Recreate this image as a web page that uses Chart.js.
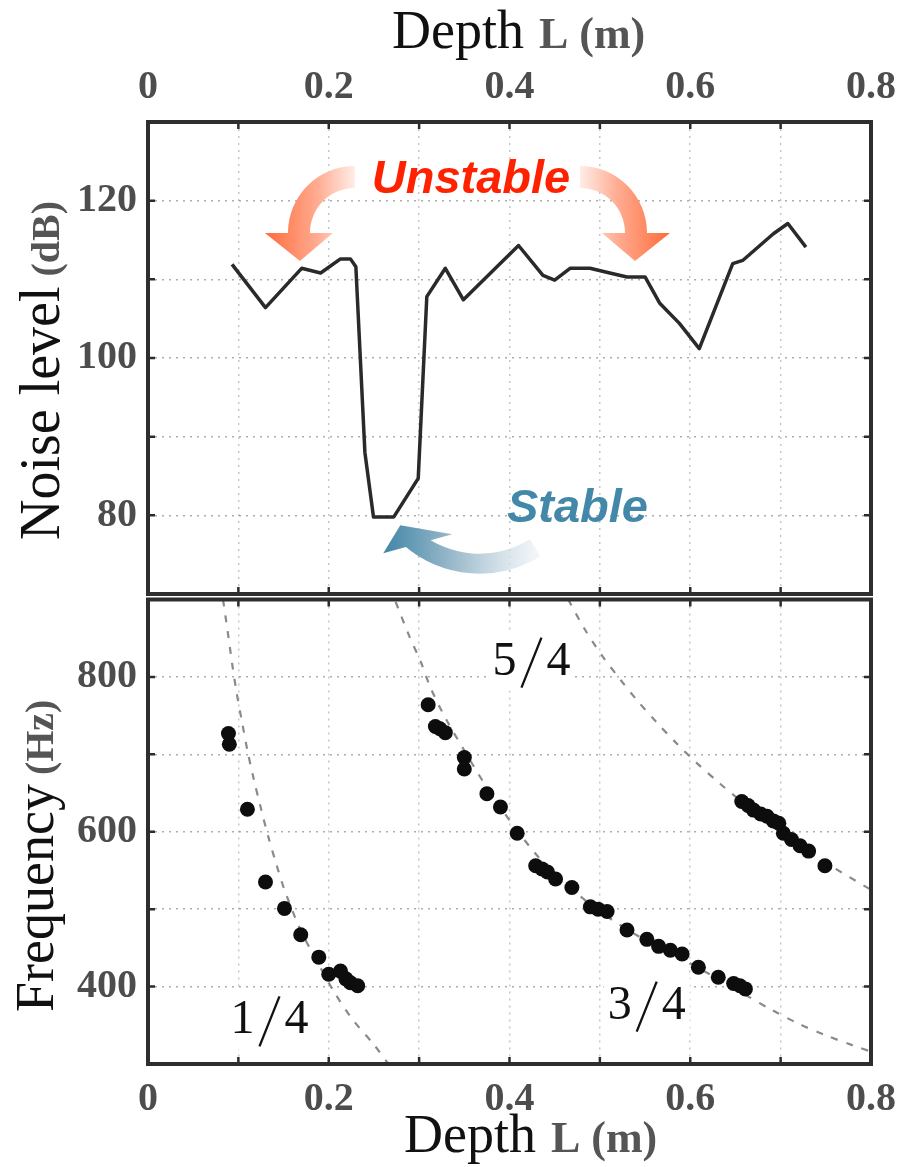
<!DOCTYPE html>
<html>
<head>
<meta charset="utf-8">
<script src="https://cdn.jsdelivr.net/npm/chart.js@4.4.1/dist/chart.umd.min.js"></script>
<style>
  html, body { margin: 0; padding: 0; background: #ffffff; }
  #wrap { position: relative; width: 899px; height: 1167px; overflow: hidden; background: #ffffff; }
  #noiseCanvas { position: absolute; left: 0; top: 0; }
  #freqCanvas { position: absolute; left: 0; top: 592px; }
</style>
</head>
<body>
<div id="wrap">
  <canvas id="noiseCanvas" width="899" height="598"></canvas>
  <canvas id="freqCanvas" width="899" height="575"></canvas>
</div>
<script>
// ---- Noise level against cavity depth ----
const depthNoise = [0.093, 0.130, 0.170, 0.191, 0.213, 0.224, 0.230, 0.240, 0.2495, 0.272,
                    0.299, 0.3085, 0.329, 0.349, 0.410, 0.437, 0.450, 0.467, 0.489, 0.511,
                    0.530, 0.550, 0.566, 0.588, 0.610, 0.647, 0.658, 0.692, 0.708, 0.728];
const noiseLevel = [111.9, 106.4, 111.4, 110.8, 112.6, 112.6, 111.6, 88.0, 79.8, 79.8,
                    84.7, 107.8, 111.4, 107.4, 114.3, 110.5, 109.9, 111.4, 111.4, 110.8,
                    110.3, 110.3, 107.0, 104.4, 101.2, 112.0, 112.4, 115.8, 117.1, 114.1];

// ---- Measured peak frequencies (dots) ----
const depthMode14 = [0.089, 0.090, 0.110, 0.130, 0.151, 0.169, 0.189, 0.200, 0.213, 0.219, 0.224, 0.232];
const freqMode14  = [727, 713, 629, 535, 501, 467, 438, 416, 420, 410, 405, 401];

const depthMode34 = [0.310, 0.318, 0.323, 0.329, 0.350, 0.350, 0.375, 0.390, 0.4085, 0.429,
                     0.436, 0.442, 0.451, 0.469, 0.4895, 0.498, 0.508, 0.530, 0.552, 0.565,
                     0.578, 0.591, 0.609, 0.631, 0.648, 0.655, 0.661];
const freqMode34  = [764, 736, 733, 728, 696, 681, 649, 632, 598, 556,
                     552, 548, 539, 528, 503, 500, 497, 473, 461, 452,
                     447, 442, 425, 412, 404, 401, 397];

const depthMode54 = [0.657, 0.664, 0.670, 0.678, 0.685, 0.692, 0.698, 0.703, 0.712, 0.7215, 0.731, 0.749];
const freqMode54  = [639, 634, 628, 623, 620, 614, 611, 598, 590, 582, 575, 556];

// ---- Quarter-wave resonance curves (dashed) ----
const depthCurve14 = [0.083, 0.088, 0.093, 0.098, 0.104, 0.110, 0.117, 0.125, 0.133, 0.142, 0.151, 0.168, 0.185, 0.206, 0.226, 0.250, 0.266];
const freqCurve14  = [900, 860, 818, 780, 742, 705, 668, 630, 594, 558, 525, 475, 437, 393, 358, 325, 300];

const depthCurve34 = [0.274, 0.289, 0.302, 0.313, 0.330, 0.350, 0.375, 0.400, 0.430, 0.460, 0.500, 0.550, 0.600, 0.660, 0.690, 0.720, 0.750, 0.780, 0.800];
const freqCurve34  = [897, 853, 819, 785, 745, 705, 657, 615, 570, 535, 497, 460, 430, 390, 370, 352, 337, 324, 316];

const depthCurve54 = [0.465, 0.482, 0.502, 0.523, 0.541, 0.563, 0.585, 0.607, 0.633, 0.660, 0.700, 0.750, 0.800];
const freqCurve54  = [900, 864, 828, 796, 770, 741, 714, 689, 662, 636, 600, 560, 525];

// ---- Labelled ticks ----
const depthTickLabels = [0, 0.2, 0.4, 0.6, 0.8];
const noiseTickLabels = [80, 100, 120];
const freqTickLabels  = [400, 600, 800];

// ---- Mode labels: [numerator, denominator, depth of centre, frequency of baseline] ----
const modeLabels = [
  ['1', '4', 0.1344, 339.6],
  ['3', '4', 0.5518, 358.7],
  ['5', '4', 0.4243, 803.0]
];

const SERIF = '"Liberation Serif", "Times New Roman", serif';
const SANS = '"Liberation Sans", Arial, sans-serif';
const TICK_FONT = { family: SERIF, size: 40, weight: 'bold' };
const TICK_COLOR = '#4d4d4d';

const toPoints = (xs, ys) => xs.map((x, i) => ({ x, y: ys[i] }));
const labelFor = (list, v) => {
  const hit = list.find(t => Math.abs(t - v) < 1e-6);
  return hit === undefined ? '' : String(hit);
};
const noEdgePadding = s => { s.paddingTop = 0; s.paddingBottom = 0; s.paddingLeft = 0; s.paddingRight = 0; };

function depthScale(position, pad, height) {
  return {
    type: 'linear', position, min: 0, max: 0.8,
    ticks: { stepSize: 0.1, autoSkip: false, maxRotation: 0, minRotation: 0, padding: pad,
             color: TICK_COLOR, font: TICK_FONT, callback: v => labelFor(depthTickLabels, v) },
    grid: { color: 'rgba(0,0,0,0.22)', lineWidth: 1.5, drawTicks: false },
    border: { display: false, dash: [2, 5] },
    afterFit: s => { s.height = height; noEdgePadding(s); }
  };
}

function valueScale(min, max, step, labels) {
  return {
    type: 'linear', position: 'left', min, max,
    ticks: { stepSize: step, autoSkip: false, padding: 11, color: TICK_COLOR, font: TICK_FONT,
             callback: v => labelFor(labels, v) },
    grid: { color: 'rgba(0,0,0,0.32)', lineWidth: 1.5, drawTicks: false },
    border: { display: false, dash: [2, 5] },
    afterFit: s => { s.width = 148; noEdgePadding(s); }
  };
}

// Title pieces drawn one after another, optionally rotated
function drawParts(ctx, x, y, rotated, parts) {
  ctx.save();
  ctx.translate(x, y);
  if (rotated) ctx.rotate(-Math.PI / 2);
  ctx.textAlign = 'left';
  ctx.textBaseline = 'alphabetic';
  let cx = 0;
  parts.forEach(p => {
    if (p.gap) { cx += p.gap; return; }
    ctx.font = p.font;
    ctx.fillStyle = p.color;
    ctx.fillText(p.text, cx, 0);
    cx += ctx.measureText(p.text).width;
  });
  ctx.restore();
}

function depthTitle(ctx, x, y) {
  drawParts(ctx, x, y, false, [
    { text: 'Depth', font: '54px ' + SERIF, color: '#111' },
    { gap: 15 },
    { text: 'L (m)', font: 'bold 44px ' + SERIF, color: '#555' }
  ]);
}

// Frame plus inward tick marks, MATLAB style
const frameAndTicks = {
  id: 'frameAndTicks',
  afterDatasetsDraw(chart) {
    const { ctx, chartArea: a, scales } = chart;
    ctx.save();
    ctx.strokeStyle = '#2b2b2b';
    ctx.lineWidth = 2.5;
    const len = 7;
    ctx.beginPath();
    scales.x.ticks.forEach(t => {
      const px = scales.x.getPixelForValue(t.value);
      ctx.moveTo(px, a.top); ctx.lineTo(px, a.top + len);
      ctx.moveTo(px, a.bottom); ctx.lineTo(px, a.bottom - len);
    });
    scales.y.ticks.forEach(t => {
      const py = scales.y.getPixelForValue(t.value);
      ctx.moveTo(a.left, py); ctx.lineTo(a.left + len, py);
      ctx.moveTo(a.right, py); ctx.lineTo(a.right - len, py);
    });
    ctx.stroke();
    ctx.lineWidth = 4;
    ctx.strokeStyle = '#2e2e2e';
    ctx.strokeRect(a.left, a.top, a.right - a.left, a.bottom - a.top);
    ctx.restore();
  }
};

// Curved annotation arrow: band along a circular arc plus a triangular head
function arcArrow(ctx, o) {
  ctx.save();
  ctx.fillStyle = o.fill;
  ctx.beginPath();
  ctx.arc(o.cx, o.cy, o.r + o.w / 2, o.a0, o.a1, o.ccw);
  ctx.arc(o.cx, o.cy, o.r - o.w / 2, o.a1, o.a0, !o.ccw);
  ctx.closePath();
  ctx.fill();
  ctx.beginPath();
  o.head.forEach((p, i) => (i ? ctx.lineTo(p[0], p[1]) : ctx.moveTo(p[0], p[1])));
  ctx.closePath();
  ctx.fill();
  ctx.restore();
}

const stabilityNotes = {
  id: 'stabilityNotes',
  afterDatasetsDraw(chart) {
    const { ctx, scales: { x, y } } = chart;
    const deg = Math.PI / 180;

    // left red arrow
    let cx = x.getPixelForValue(0.229), cy = y.getPixelForValue(115.9);
    let g = ctx.createLinearGradient(cx + 4, 0, cx - 90, 0);
    g.addColorStop(0, '#fff4f0');
    g.addColorStop(0.45, '#ffab90');
    g.addColorStop(1, '#ff6a3a');
    let ex = cx - 56, ey = cy;
    arcArrow(ctx, { cx, cy, r: 56, w: 22, a0: -90 * deg, a1: -180 * deg, ccw: true, fill: g,
      head: [[ex - 34, ey], [ex + 34, ey], [ex + 1, ey + 28]] });

    // right red arrow
    cx = x.getPixelForValue(0.478); cy = y.getPixelForValue(115.9);
    g = ctx.createLinearGradient(cx - 4, 0, cx + 90, 0);
    g.addColorStop(0, '#fff4f0');
    g.addColorStop(0.45, '#ffab90');
    g.addColorStop(1, '#ff6a3a');
    ex = cx + 56; ey = cy;
    arcArrow(ctx, { cx, cy, r: 56, w: 22, a0: -90 * deg, a1: 0, ccw: false, fill: g,
      head: [[ex - 34, ey], [ex + 34, ey], [ex - 1, ey + 28]] });

    // blue arrow
    cx = x.getPixelForValue(0.3668); cy = y.getPixelForValue(87.2);
    g = ctx.createLinearGradient(cx + 68, 0, cx - 98, 0);
    g.addColorStop(0, 'rgba(244,247,250,0.6)');
    g.addColorStop(0.5, '#a9c3d2');
    g.addColorStop(1, '#3f84a6');
    ex = cx + 105 * Math.cos(126 * deg); ey = cy + 105 * Math.sin(126 * deg);
    arcArrow(ctx, { cx, cy, r: 105, w: 20, a0: 58 * deg, a1: 131 * deg, ccw: false, fill: g,
      head: [[ex + 34.5, ey - 9.5], [ex - 34.5, ey + 9.5], [ex - 17.5, ey - 18.5]] });

    ctx.save();
    ctx.textAlign = 'center';
    ctx.textBaseline = 'alphabetic';
    ctx.font = 'italic bold 47px ' + SANS;
    ctx.fillStyle = '#ff2200';
    ctx.fillText('Unstable', x.getPixelForValue(0.3574), y.getPixelForValue(120.97));
    ctx.fillStyle = '#4388a9';
    ctx.fillText('Stable', x.getPixelForValue(0.4752), y.getPixelForValue(79.2));
    ctx.restore();
  },
  afterDraw(chart) {
    const ctx = chart.ctx;
    depthTitle(ctx, 392, 48);
    drawParts(ctx, 59, 540, true, [
      { text: 'Noise level', font: '56px ' + SERIF, color: '#111' },
      { gap: 10 },
      { text: '(dB)', font: 'bold 40px ' + SERIF, color: '#555' }
    ]);
  }
};

const modeNotes = {
  id: 'modeNotes',
  afterDatasetsDraw(chart) {
    const { ctx, scales: { x, y } } = chart;
    ctx.save();
    ctx.font = '48px ' + SERIF;
    ctx.textBaseline = 'alphabetic';
    ctx.textAlign = 'left';
    modeLabels.forEach(([top, bottom, depth, freq]) => {
      const cx = x.getPixelForValue(depth), base = y.getPixelForValue(freq);
      const w1 = ctx.measureText(top).width, w2 = ctx.measureText(bottom).width;
      const gap = 5, slashW = 20;
      const total = w1 + gap + slashW + gap + w2;
      const x0 = cx - total / 2;
      ctx.fillStyle = '#ffffff';
      ctx.fillRect(x0 - 4, base - 44, total + 8, 60);
      ctx.fillStyle = '#111';
      ctx.fillText(top, x0, base);
      ctx.strokeStyle = '#111';
      ctx.lineWidth = 2.3;
      ctx.beginPath();
      const sx = x0 + w1 + gap;
      ctx.moveTo(sx + slashW, base - 37);
      ctx.lineTo(sx, base + 13);
      ctx.stroke();
      ctx.fillText(bottom, sx + slashW + gap, base);
    });
    ctx.restore();
  },
  afterDraw(chart) {
    const ctx = chart.ctx;
    depthTitle(ctx, 404, 560);
    drawParts(ctx, 53, 420, true, [
      { text: 'Frequency', font: '54px ' + SERIF, color: '#111' },
      { gap: 9 },
      { text: '(Hz)', font: 'bold 40px ' + SERIF, color: '#555' }
    ]);
  }
};

const baseOptions = {
  responsive: false,
  animation: false,
  devicePixelRatio: 1,
  events: []
};

new Chart(document.getElementById('noiseCanvas'), {
  type: 'scatter',
  data: {
    datasets: [{
      data: toPoints(depthNoise, noiseLevel),
      showLine: true,
      borderColor: '#2a2a2a',
      borderWidth: 3.5,
      borderJoinStyle: 'round',
      pointRadius: 0,
      tension: 0
    }]
  },
  options: Object.assign({}, baseOptions, {
    layout: { padding: { left: 0, right: 28, top: 0, bottom: 4 } },
    plugins: { legend: { display: false }, tooltip: { enabled: false } },
    scales: {
      x: depthScale('top', 10, 122),
      y: valueScale(70, 130, 10, noiseTickLabels)
    }
  }),
  plugins: [stabilityNotes, frameAndTicks]
});

const dotStyle = { showLine: false, pointRadius: 7.5, pointBackgroundColor: '#0d0d0d', pointBorderWidth: 0 };
const curveStyle = { showLine: true, pointRadius: 0, borderColor: '#8a8a8a', borderWidth: 2.2, borderDash: [7, 9], tension: 0.3 };

new Chart(document.getElementById('freqCanvas'), {
  type: 'scatter',
  data: {
    datasets: [
      Object.assign({ data: toPoints(depthMode14, freqMode14) }, dotStyle),
      Object.assign({ data: toPoints(depthMode34, freqMode34) }, dotStyle),
      Object.assign({ data: toPoints(depthMode54, freqMode54) }, dotStyle),
      Object.assign({ data: toPoints(depthCurve14, freqCurve14) }, curveStyle),
      Object.assign({ data: toPoints(depthCurve34, freqCurve34) }, curveStyle),
      Object.assign({ data: toPoints(depthCurve54, freqCurve54) }, curveStyle)
    ]
  },
  options: Object.assign({}, baseOptions, {
    layout: { padding: { left: 0, right: 28, top: 2, bottom: 0 } },
    plugins: { legend: { display: false }, tooltip: { enabled: false } },
    scales: {
      x: depthScale('bottom', 12, 103),
      y: valueScale(300, 900, 100, freqTickLabels)
    }
  }),
  plugins: [modeNotes, frameAndTicks]
});
</script>
</body>
</html>
